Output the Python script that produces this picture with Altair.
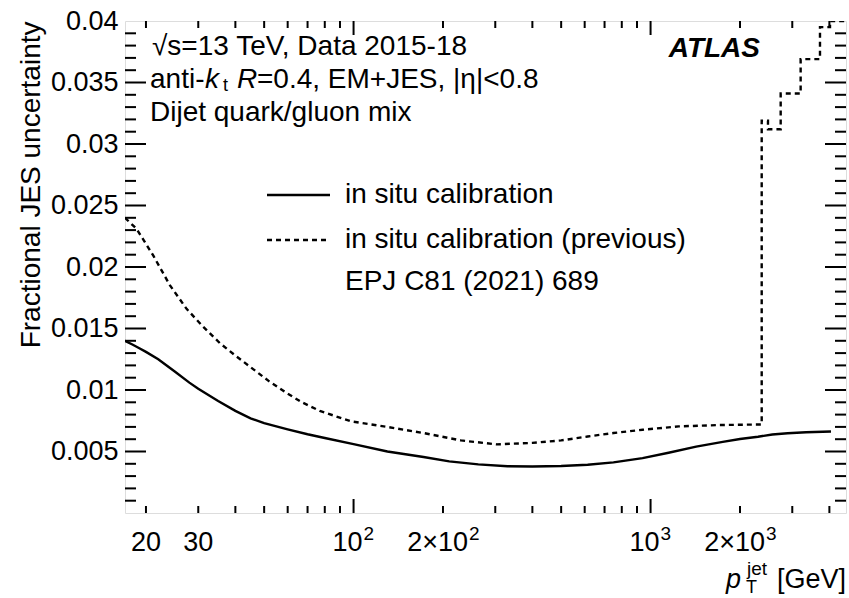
import altair as alt
import pandas as pd

# ---------------- data ----------------
pt_new = [17, 18, 19, 20, 22, 25, 28, 30, 35, 40, 45, 50, 60, 70, 80, 100, 130, 172, 210, 263,
          330, 400, 500, 614, 750, 940, 1150, 1424, 1750, 2000, 2300, 2570, 2893, 3340, 4050]
unc_new = [0.0140, 0.0137, 0.0134, 0.0131, 0.0125, 0.0115, 0.0106, 0.0101, 0.0091, 0.0083,
           0.0077, 0.0073, 0.0068, 0.0064, 0.0061, 0.0056, 0.0050, 0.00455, 0.0042, 0.00395,
           0.0038, 0.00378, 0.00382, 0.00392, 0.00412, 0.00446, 0.0049, 0.0054, 0.00578,
           0.00602, 0.0062, 0.00638, 0.00648, 0.00656, 0.00663]

pt_old = [17, 18.6, 21.2, 24.1, 27.4, 31, 35.5, 40, 45.9, 52, 59.1, 67, 77, 98, 130, 172, 230,
          303, 400, 500, 614, 750, 940, 1243, 1700, 2367, 2367, 2485, 2485, 2742, 2742, 3201,
          3201, 3719, 3719, 4019, 4019, 4550]
unc_old = [0.0240, 0.0231, 0.0209, 0.0185, 0.0166, 0.0152, 0.0138, 0.0128, 0.0117, 0.0107,
           0.0098, 0.0090, 0.0083, 0.00745, 0.0070, 0.0065, 0.0059, 0.00558, 0.0057, 0.0059,
           0.00622, 0.0065, 0.00677, 0.00704, 0.00715, 0.0072, 0.0319, 0.0319, 0.0312, 0.0312,
           0.0341, 0.0341, 0.0369, 0.0369, 0.0395, 0.0395, 0.0400, 0.0400]

series_names = ["in situ calibration", "in situ calibration (previous)"]

x_major = [100, 1000]
x_minor = [20, 30, 40, 50, 60, 70, 80, 90, 200, 300, 400, 500, 600, 700, 800, 900,
           2000, 3000, 4000]
y_major = [0.005, 0.01, 0.015, 0.02, 0.025, 0.03, 0.035]
y_minor = [0.001, 0.002, 0.003, 0.004, 0.006, 0.007, 0.008, 0.009, 0.011, 0.012, 0.013,
           0.014, 0.016, 0.017, 0.018, 0.019, 0.021, 0.022, 0.023, 0.024, 0.026, 0.027,
           0.028, 0.029, 0.031, 0.032, 0.033, 0.034, 0.036, 0.037, 0.038, 0.039]

# x tick labels: plain ones, and "mantissa x 10^exp" ones drawn with a raised exponent
xlab_plain_vals = [20, 30]
xlab_plain_text = ["20", "30"]
xlab_pow_vals = [100, 1000]
xlab_pow_exp = ["2", "3"]
xlab_mpow_vals = [200, 2000]
xlab_mpow_exp = ["2", "3"]
ylab_vals = [0.005, 0.01, 0.015, 0.02, 0.025, 0.03, 0.035, 0.04]

# ---------------- layout ----------------
W, H = 721, 492
FONT = "Liberation Sans"
FS = 27
LAB_Y = 530   # baseline of x tick labels (relative to plot top)

xscale = alt.Scale(type="log", domain=[17, 4550], nice=False)
yscale = alt.Scale(domain=[0, 0.04], nice=False, zero=False)

yaxis = alt.Axis(values=ylab_vals, format=".3~f", ticks=False, tickSize=0, domain=False,
                 grid=False, labelFont=FONT, labelFontSize=FS, labelColor="black",
                 labelPadding=7, labelFlush=False, labelOverlap=False,
                 title="Fractional JES uncertainty", titleFont=FONT, titleFontSize=28,
                 titleFontWeight="normal", titleColor="black", titleAngle=-90,
                 titleAlign="right", titleBaseline="top", titleX=-108, titleY=0)

df_new = pd.DataFrame({"pt": pt_new, "unc": unc_new, "i": list(range(len(pt_new))),
                       "series": series_names[0]})
df_old = pd.DataFrame({"pt": pt_old, "unc": unc_old, "i": list(range(len(pt_old))),
                       "series": series_names[1]})

X = lambda: alt.X("pt:Q", scale=xscale, axis=None)
Y = lambda: alt.Y("unc:Q", scale=yscale, axis=yaxis)

line_new = alt.Chart(df_new).mark_line(color="black", strokeWidth=2.4, clip=True).encode(
    x=X(), y=Y(), order="i:Q")
line_old = alt.Chart(df_old).mark_line(color="black", strokeWidth=2.4, strokeDash=[5, 4],
                                       clip=True).encode(x=X(), y=Y(), order="i:Q")

# ---------------- inward ticks on all four sides ----------------
def xticks(vals, length):
    d = pd.DataFrame({"pt": vals})
    bot = alt.Chart(d).mark_rule(color="black", strokeWidth=2).encode(
        x=X(), y=alt.value(H), y2=alt.value(H - length))
    top = alt.Chart(d).mark_rule(color="black", strokeWidth=2).encode(
        x=X(), y=alt.value(0), y2=alt.value(length))
    return [bot, top]

def yticks(vals, length):
    d = pd.DataFrame({"unc": vals})
    left = alt.Chart(d).mark_rule(color="black", strokeWidth=2).encode(
        y=Y(), x=alt.value(0), x2=alt.value(length))
    right = alt.Chart(d).mark_rule(color="black", strokeWidth=2).encode(
        y=Y(), x=alt.value(W), x2=alt.value(W - length))
    return [left, right]

ticks = xticks(x_major, 14) + xticks(x_minor, 7) + yticks(y_major, 21) + yticks(y_minor, 11)

# ---------------- x tick labels ----------------
def xlabels(vals, texts, align, dx, size, dy=0):
    d = pd.DataFrame({"pt": vals, "lab": texts})
    return alt.Chart(d).mark_text(font=FONT, fontSize=size, align=align, dx=dx,
                                  baseline="alphabetic", color="black").encode(
        x=X(), y=alt.value(LAB_Y + dy), text="lab:N")

xlabel_layers = [
    xlabels(xlab_plain_vals, xlab_plain_text, "center", 0, FS),
    xlabels(xlab_pow_vals, ["10"] * len(xlab_pow_vals), "right", 9, FS),
    xlabels(xlab_pow_vals, xlab_pow_exp, "left", 10, 19, dy=-11),
    xlabels(xlab_mpow_vals, ["2\u00d710"] * len(xlab_mpow_vals), "right", 25, FS),
    xlabels(xlab_mpow_vals, xlab_mpow_exp, "left", 26, 19, dy=-11),
]

# ---------------- text annotations ----------------
one = pd.DataFrame({"k": [0]})

def txt(s, x, y, size=28, style="normal", weight="normal", align="left", baseline="alphabetic"):
    return alt.Chart(one).mark_text(text=s, font=FONT, fontSize=size, fontStyle=style,
                                    fontWeight=weight, align=align, baseline=baseline,
                                    color="black").encode(x=alt.value(x), y=alt.value(y))

texts = [
    txt("\u221as=13 TeV, Data 2015-18", 27, 34),
    txt("anti-", 25, 67),
    txt("k", 80, 67, style="italic"),
    txt("t", 98, 70, size=18),
    txt("R", 112, 67, style="italic"),
    txt("=0.4, EM+JES, |\u03b7|<0.8", 132, 67),
    txt("Dijet quark/gluon mix", 25, 100),
    txt("ATLAS", 635, 36, size=28, style="italic", weight="bold", align="right"),
    txt(series_names[0], 220, 174, baseline="middle"),
    txt(series_names[1], 220, 219, baseline="middle"),
    txt("EPJ C81 (2021) 689", 220, 261, baseline="middle"),
    txt("[GeV]", 721, 567, size=27, align="right"),
    txt("p", 616, 567, size=27, style="italic", align="right"),
    txt("jet", 622, 554, size=19),
    txt("T", 621, 572, size=18),
]

legend_lines = [
    alt.Chart(one).mark_rule(color="black", strokeWidth=2.4).encode(
        x=alt.value(142), x2=alt.value(205), y=alt.value(174)),
    alt.Chart(one).mark_rule(color="black", strokeWidth=2.4, strokeDash=[5, 4]).encode(
        x=alt.value(142), x2=alt.value(205), y=alt.value(219)),
]

chart = alt.layer(line_new, line_old, *ticks, *xlabel_layers, *legend_lines, *texts).properties(
    width=W, height=H,
    autosize=alt.AutoSizeParams(type="none"),
    padding={"left": 125, "top": 21, "right": 3, "bottom": 85},
).configure_view(stroke="black", strokeWidth=2.2).configure(background="white")

chart.save("out.html", embed_options={"renderer": "svg", "actions": False})
